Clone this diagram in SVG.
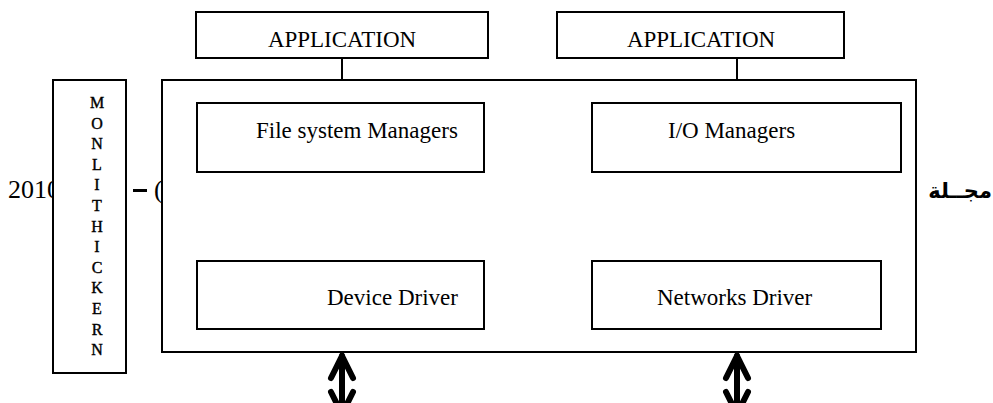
<svg xmlns="http://www.w3.org/2000/svg" width="993" height="403" viewBox="0 0 993 403">
  <style>
    .box { fill: #ffffff; stroke: #000000; stroke-width: 2; }
    .lbl { font-family: "Liberation Serif", "Times New Roman", serif; font-size: 23px; fill: #000000; }
    .vert { font-family: "Liberation Serif", "Times New Roman", serif; font-size: 16px; fill: #000000; text-anchor: middle; stroke: #000000; stroke-width: 0.4; }
    .wire { stroke: #000000; stroke-width: 2; fill: none; }
    .bus { stroke: #000000; stroke-width: 6; fill: none; stroke-linejoin: miter; stroke-linecap: round; }
  </style>
  <rect width="993" height="403" fill="#ffffff"/>

  <!-- side captions, partly hidden behind the boxes -->
  <g id="captions">
    <text x="8" y="198" font-family="Liberation Serif, serif" font-size="26">2010</text>
    <rect x="133" y="189" width="14" height="3" fill="#000000"/>
    <text x="154" y="198" font-family="Liberation Serif, serif" font-size="26">(</text>
    <text x="992" y="198" font-family="DejaVu Sans, sans-serif" font-size="21" font-weight="bold" text-anchor="end">مجــلة</text>
  </g>

  <!-- connectors -->
  <g id="connectors">
    <line class="wire" x1="342" y1="58" x2="342" y2="80"/>
    <line class="wire" x1="737" y1="58" x2="737" y2="80"/>
    <!-- two-way bus arrows under the kernel -->
    <g id="bus-left">
      <line class="bus" x1="342" y1="356" x2="342" y2="410"/>
      <polyline class="bus" points="331,378 342,356 353,378"/>
      <polyline class="bus" points="331,392 342,414 353,392"/>
    </g>
    <g id="bus-right">
      <line class="bus" x1="737" y1="356" x2="737" y2="410"/>
      <polyline class="bus" points="726,378 737,356 748,378"/>
      <polyline class="bus" points="726,392 737,414 748,392"/>
    </g>
  </g>

  <g id="monolithic-kernel">
    <rect class="box" x="53" y="80" width="73" height="293"/>
    <text class="vert" x="97" y="108">M</text>
    <text class="vert" x="97" y="128.6">O</text>
    <text class="vert" x="97" y="149.2">N</text>
    <text class="vert" x="97" y="169.8">L</text>
    <text class="vert" x="97" y="190.4">I</text>
    <text class="vert" x="97" y="211">T</text>
    <text class="vert" x="97" y="231.6">H</text>
    <text class="vert" x="97" y="252.2">I</text>
    <text class="vert" x="97" y="272.8">C</text>
    <text class="vert" x="97" y="293.4">K</text>
    <text class="vert" x="97" y="314">E</text>
    <text class="vert" x="97" y="334.6">R</text>
    <text class="vert" x="97" y="355.2">N</text>
  </g>

  <g id="kernel">
    <rect class="box" x="162" y="80" width="754" height="272"/>
  </g>

  <g id="application-1">
    <rect class="box" x="196" y="12" width="292" height="46"/>
    <text class="lbl" x="342" y="47" text-anchor="middle">APPLICATION</text>
  </g>
  <g id="application-2">
    <rect class="box" x="557" y="12" width="287" height="46"/>
    <text class="lbl" x="701" y="47" text-anchor="middle">APPLICATION</text>
  </g>

  <g id="file-system-managers">
    <rect class="box" x="197" y="103" width="287" height="69"/>
    <text class="lbl" x="256" y="138">File system Managers</text>
  </g>
  <g id="io-managers">
    <rect class="box" x="592" y="103" width="309" height="69"/>
    <text class="lbl" x="668" y="138">I/O Managers</text>
  </g>
  <g id="device-driver">
    <rect class="box" x="197" y="261" width="287" height="68"/>
    <text class="lbl" x="327" y="305">Device Driver</text>
  </g>
  <g id="networks-driver">
    <rect class="box" x="592" y="261" width="289" height="68"/>
    <text class="lbl" x="657" y="305">Networks Driver</text>
  </g>
</svg>
